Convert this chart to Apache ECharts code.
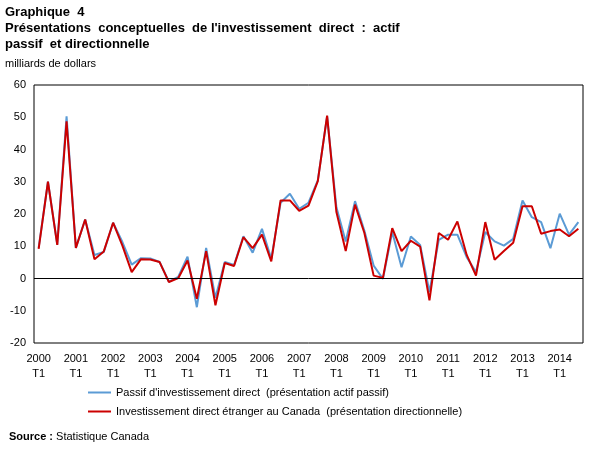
<!DOCTYPE html>
<html>
<head>
<meta charset="utf-8">
<script src="https://cdn.jsdelivr.net/npm/echarts@6/dist/echarts.min.js"></script>
<style>
  html, body { margin: 0; padding: 0; background: #fff; }
  #chart { width: 605px; height: 454px; }
</style>
</head>
<body>
<div id="chart"></div>
<script>
// trimestres 2000 T1 - 2014 T3
const years = [2000, 2001, 2002, 2003, 2004, 2005, 2006, 2007, 2008, 2009, 2010, 2011, 2012, 2013, 2014];
const quarters = ['T1', 'T2', 'T3', 'T4'];

// Passif d'investissement direct (présentation actif passif)
const passif = [
  9.5, 30, 10.5, 50.3, 9.5, 18.3, 7.3, 8.2, 17.3, 11.3,
  4.3, 6.3, 6.2, 5.1, -1.0, 0.5, 6.8, -8.9, 9.5, -6.0,
  5.1, 4.2, 13.1, 8.0, 15.4, 6.1, 23.5, 26.3, 21.6, 23.5,
  30.4, 50.3, 22.1, 11.5, 24.0, 14.9, 4.0, -0.1, 14.4, 3.5,
  13.0, 10.4, -4.2, 12.0, 13.6, 13.6, 6.6, 2.0, 14.4, 11.5,
  10.2, 12.3, 24.2, 19.0, 17.5, 9.4, 20.1, 13.6, 17.5
];

// Investissement direct étranger au Canada (présentation directionnelle)
const directionnel = [
  9.2, 30, 10.4, 48.7, 9.5, 18.3, 6.0, 8.4, 17.3, 10.2,
  2.0, 6.0, 5.9, 5.1, -1.1, 0.1, 5.6, -6.3, 8.5, -8.3,
  4.8, 3.9, 12.8, 9.4, 13.6, 5.3, 24.2, 24.2, 21.0, 22.6,
  30.2, 50.5, 20.6, 8.5, 22.9, 14.2, 0.9, 0.2, 15.6, 8.5,
  11.7, 9.9, -6.8, 14.1, 12.0, 17.7, 7.3, 0.9, 17.5, 5.8,
  8.5, 11.1, 22.4, 22.4, 13.9, 14.7, 15.2, 13.1, 15.4
];

const categories = [];
years.forEach(function (y) {
  quarters.forEach(function (q) {
    categories.push(q === 'T1' ? y + '\nT1' : q);
  });
});
categories.length = passif.length;

const font = 'Liberation Sans, Arial, sans-serif';

const options = {
  animation: false,
  title: [
    {
      text: 'Graphique  4\nPrésentations  conceptuelles  de l\'investissement  direct  :  actif\npassif  et directionnelle',
      left: 5,
      top: 4,
      padding: 0,
      textStyle: { fontFamily: font, fontSize: 13, fontWeight: 'bold', color: '#000', lineHeight: 16 }
    },
    {
      text: 'milliards de dollars',
      left: 5,
      top: 58,
      padding: 0,
      textStyle: { fontFamily: font, fontSize: 11, fontWeight: 'normal', color: '#000' }
    },
    {
      text: '{b|Source :} Statistique Canada',
      left: 9,
      top: 431,
      padding: 0,
      textStyle: {
        fontFamily: font, fontSize: 11, fontWeight: 'normal', color: '#000',
        rich: { b: { fontFamily: font, fontSize: 11, fontWeight: 'bold', color: '#000' } }
      }
    }
  ],
  legend: {
    orient: 'vertical',
    left: 83,
    top: 382,
    icon: 'rect',
    itemWidth: 23,
    itemHeight: 2,
    itemGap: 8,
    textStyle: { fontFamily: font, fontSize: 11, color: '#000' },
    data: [
      'Passif d\'investissement direct  (présentation actif passif)',
      'Investissement direct étranger au Canada  (présentation directionnelle)'
    ]
  },
  grid: {
    left: 34,
    right: 22,
    top: 85,
    bottom: 111,
    show: true,
    borderColor: '#000',
    borderWidth: 1
  },
  xAxis: {
    type: 'category',
    data: categories,
    boundaryGap: true,
    axisLine: { show: false },
    axisTick: { show: false },
    splitLine: { show: false },
    axisLabel: {
      interval: 3,
      margin: 8,
      fontFamily: font,
      fontSize: 11,
      color: '#000',
      lineHeight: 15
    }
  },
  yAxis: {
    type: 'value',
    min: -20,
    max: 60,
    interval: 10,
    axisLine: { show: false },
    axisTick: { show: false },
    splitLine: { show: false },
    axisLabel: { margin: 8, fontFamily: font, fontSize: 11, color: '#000' }
  },
  series: [
    {
      name: 'Passif d\'investissement direct  (présentation actif passif)',
      type: 'line',
      data: passif,
      symbol: 'none',
      lineStyle: { color: '#5B9BD5', width: 2 },
      itemStyle: { color: '#5B9BD5' },
      markLine: {
        silent: true,
        symbol: 'none',
        label: { show: false },
        lineStyle: { color: '#000', width: 1, type: 'solid' },
        data: [{ yAxis: 0 }]
      }
    },
    {
      name: 'Investissement direct étranger au Canada  (présentation directionnelle)',
      type: 'line',
      data: directionnel,
      symbol: 'none',
      lineStyle: { color: '#CC0000', width: 2 },
      itemStyle: { color: '#CC0000' }
    }
  ]
};

const E = echarts.init(document.getElementById('chart'));
window.onresize = function () {
  E.resize();
};
E.setOption(options);
</script>
</body>
</html>
